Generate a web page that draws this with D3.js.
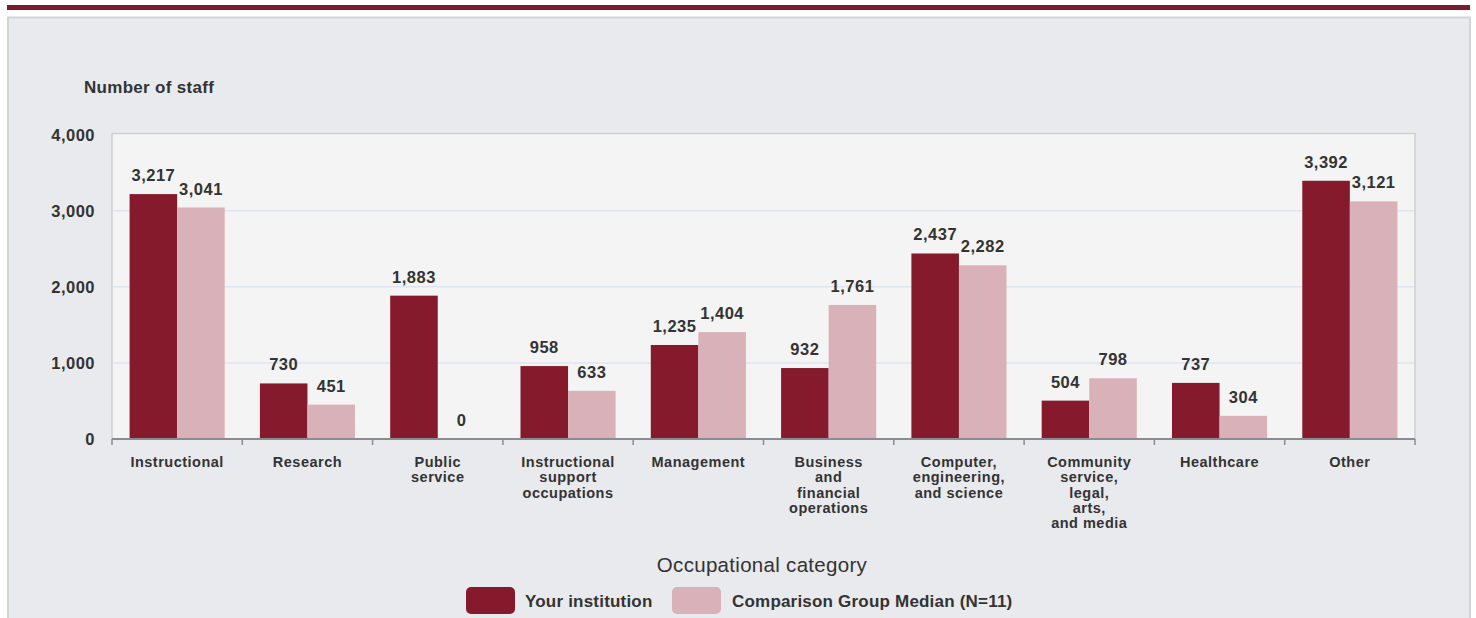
<!DOCTYPE html>
<html>
<head>
<meta charset="utf-8">
<script src="https://cdn.jsdelivr.net/npm/d3@7"></script>
<style>
  html, body { margin: 0; padding: 0; background: #ffffff; }
  svg { display: block; }
  text { font-family: "Liberation Sans", Arial, sans-serif; }
</style>
</head>
<body>
<svg id="chart" width="1476" height="618"></svg>
<script>
const categories = [
  ["Instructional"],
  ["Research"],
  ["Public", "service"],
  ["Instructional", "support", "occupations"],
  ["Management"],
  ["Business", "and", "financial", "operations"],
  ["Computer,", "engineering,", "and science"],
  ["Community", "service,", "legal,", "arts,", "and media"],
  ["Healthcare"],
  ["Other"]
];
const yourInstitution = [3217, 730, 1883, 958, 1235, 932, 2437, 504, 737, 3392];
const comparisonMedian = [3041, 451, 0, 633, 1404, 1761, 2282, 798, 304, 3121];
const seriesNames = ["Your institution", "Comparison Group Median (N=11)"];
const yTicks = [0, 1000, 2000, 3000, 4000];
const yTitle = "Number of staff";
const xTitle = "Occupational category";

const colors = ["#841a2b", "#d8b2b8"];
const svg = d3.select("#chart");

// top band and panel
svg.append("rect").attr("x", 7).attr("y", 5).attr("width", 1463).attr("height", 5).attr("fill", "#7f1a2c");
svg.append("rect").attr("x", 8).attr("y", 17.5).attr("width", 1462).attr("height", 610)
  .attr("fill", "#e9eaee").attr("stroke", "#d2d3d6").attr("stroke-width", 2);

const plot = { left: 112, right: 1415, top: 133.5, bottom: 439 };

const y = d3.scaleLinear().domain([0, 4000]).range([plot.bottom, plot.top + 1]);
const x = d3.scaleBand().domain(d3.range(categories.length))
  .range([plot.left, plot.right]).paddingInner(0.27).paddingOuter(0.135);
const xs = d3.scaleBand().domain([0, 1]).range([0, x.bandwidth()]);
const xOuter = d3.scaleBand().domain(d3.range(categories.length)).range([plot.left, plot.right]);

// plot area
svg.append("rect").attr("x", plot.left).attr("y", plot.top)
  .attr("width", plot.right - plot.left).attr("height", plot.bottom - plot.top)
  .attr("fill", "#f4f4f4").attr("stroke", "#cfd0d3").attr("stroke-width", 1.5);

// gridlines
svg.append("g").selectAll("line").data(yTicks.filter(d => d > 0 && d < 4000)).join("line")
  .attr("x1", plot.left + 1).attr("x2", plot.right - 1)
  .attr("y1", d => y(d)).attr("y2", d => y(d))
  .attr("stroke", "#dfe5f0").attr("stroke-width", 1.5);

// y tick labels
svg.append("g").selectAll("text").data(yTicks).join("text")
  .attr("x", 95).attr("y", d => y(d) + 6)
  .attr("text-anchor", "end").attr("font-size", 16.5).attr("letter-spacing", 0.5)
  .attr("font-weight", "bold").attr("fill", "#333").text(d => d3.format(",")(d));

svg.append("text").attr("x", 84).attr("y", 93).attr("font-size", 17).attr("letter-spacing", 0.3)
  .attr("font-weight", "bold").attr("fill", "#333").text(yTitle);

// bars
const data = categories.map((c, i) => [yourInstitution[i], comparisonMedian[i]]);
const groups = svg.append("g").selectAll("g").data(data).join("g")
  .attr("transform", (d, i) => `translate(${x(i)},0)`);
groups.selectAll("rect").data(d => d).join("rect")
  .attr("x", (d, j) => xs(j)).attr("width", xs.bandwidth())
  .attr("y", d => y(d)).attr("height", d => plot.bottom - y(d))
  .attr("fill", (d, j) => colors[j]);
groups.selectAll("text").data(d => d).join("text")
  .attr("x", (d, j) => xs(j) + xs.bandwidth() / 2)
  .attr("y", d => y(d) - 13)
  .attr("text-anchor", "middle").attr("font-size", 16.5).attr("letter-spacing", 0.5)
  .attr("font-weight", "bold").attr("fill", "#333").text(d => d3.format(",")(d));

// x axis
const axisG = svg.append("g");
axisG.append("line").attr("x1", plot.left).attr("x2", plot.right)
  .attr("y1", plot.bottom).attr("y2", plot.bottom).attr("stroke", "#8a8c92").attr("stroke-width", 2);
const boundaries = d3.range(categories.length + 1).map(i => i < categories.length ? xOuter(i) : plot.right);
axisG.selectAll("line.tick").data(boundaries).join("line").attr("class", "tick")
  .attr("x1", d => d).attr("x2", d => d).attr("y1", plot.bottom).attr("y2", plot.bottom + 6)
  .attr("stroke", "#8a8c92").attr("stroke-width", 1.5);

const labels = svg.append("g").selectAll("text").data(categories).join("text")
  .attr("x", (d, i) => xOuter(i) + xOuter.bandwidth() / 2)
  .attr("y", 467).attr("text-anchor", "middle").attr("font-size", 14.5).attr("letter-spacing", 0.5)
  .attr("font-weight", "bold").attr("fill", "#333");
labels.selectAll("tspan").data(d => d).join("tspan")
  .attr("x", function () { return this.parentNode.getAttribute("x"); })
  .attr("dy", (d, k) => k === 0 ? 0 : 15.3).text(d => d);

svg.append("text").attr("x", 762).attr("y", 572).attr("text-anchor", "middle")
  .attr("font-size", 20.5).attr("letter-spacing", 0.3).attr("fill", "#333").text(xTitle);

// legend
const legend = [
  { x: 466, tx: 525, name: seriesNames[0], color: colors[0] },
  { x: 672, tx: 732, name: seriesNames[1], color: colors[1] }
];
const lg = svg.append("g").selectAll("g").data(legend).join("g");
lg.append("rect").attr("x", d => d.x).attr("y", 587).attr("width", 49).attr("height", 27)
  .attr("rx", 5).attr("fill", d => d.color);
lg.append("text").attr("x", d => d.tx).attr("y", 607).attr("font-size", 17).attr("letter-spacing", 0.2)
  .attr("font-weight", "bold").attr("fill", "#333").text(d => d.name);
</script>
</body>
</html>
